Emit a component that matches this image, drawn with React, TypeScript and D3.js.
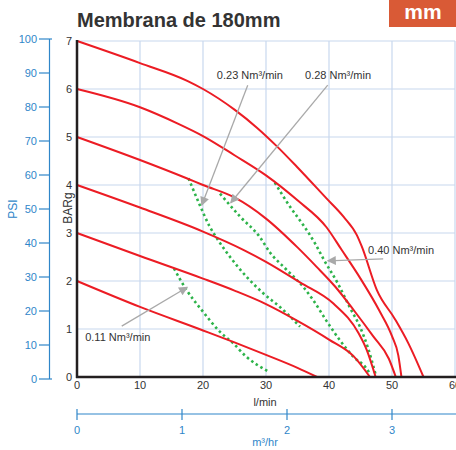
import React from "react";
import * as d3 from "d3";

// ---- data (l/min, BARg) ----
const curve2bar = [[0,2],[10,1.46],[20,0.97],[25,0.72],[30,0.46],[35,0.19],[38.1,0]];
const curve3bar = [[0,3],[10,2.52],[20,2.05],[25,1.8],[30,1.52],[35,1.17],[40,0.78],[44,0.42],[46.5,0]];
const curve4bar = [[0,4],[10,3.53],[20,3.03],[26.4,2.65],[30,2.4],[35.4,1.97],[40.7,1.53],[44.7,0.91],[46,0.56],[47.4,0]];
const curve5bar = [[0,5],[10,4.52],[17.4,4.14],[20,4.0],[25,3.74],[30,3.3],[35,2.7],[38,2.3],[41,1.88],[44,1.38],[47,0.85],[49.5,0.38],[50.6,0]];
const curve6bar = [[0,6],[10,5.62],[16,5.28],[20,5.02],[25,4.62],[30,4.2],[35,3.68],[39.6,3.12],[42,2.65],[45,2.05],[48,1.38],[50,0.85],[51,0.45],[51.5,0]];
const curve7bar = [[0,7],[10,6.54],[17.5,6.17],[20,6.0],[25,5.57],[28.6,5.19],[31.7,4.81],[34.9,4.38],[39.6,3.72],[42.3,3.34],[44.4,2.96],[45.2,2.72],[47.6,1.81],[50.5,1.2],[52.6,0.7],[55,0]];
const pressureCurves = [curve2bar, curve3bar, curve4bar, curve5bar, curve6bar, curve7bar];

const air011 = [[15.4,2.26],[17.4,1.81],[20,1.36],[22.7,0.94],[24.8,0.7],[26.9,0.42],[30.3,0.12]];
const air023 = [[17.7,4.14],[19.5,3.58],[21,3.15],[22.4,2.85],[24.3,2.5],[26.9,2.09],[29.6,1.74],[32.2,1.46],[35.4,1.05]];
const air028 = [[22.7,3.82],[25.9,3.34],[29,2.92],[30.6,2.6],[33.3,2.23],[35.9,1.88],[37.5,1.6],[39.6,1.17],[41.7,0.77],[43.9,0.42],[45.8,0.2],[46.6,0.05]];
const air040 = [[31.4,4.05],[33.8,3.55],[36,3.15],[37.8,2.78],[39.2,2.44],[41.4,1.95],[43.3,1.45],[44.9,1.05],[46.2,0.6],[47.4,0.05]];
const airCurves = [air011, air023, air028, air040];

// annotations: label, text pos [l/min, bar], arrow start, arrow tip
const annLabels = ["0.23 Nm³/min", "0.28 Nm³/min", "0.40 Nm³/min", "0.11 Nm³/min"];
const annText = [[22.2,6.21],[36.2,6.21],[46.2,2.56],[1.3,0.76]];
const annFrom = [[27.1,6.08],[39.8,6.08],[48.6,2.46],[7.1,1.06]];
const annTo = [[19.8,3.58],[24.4,3.63],[39.8,2.42],[17.5,1.87]];

const flowTicks = [0,10,20,30,40,50,60];
const barTicks = [0,1,2,3,4,5,6,7];
const psiTicks = [0,10,20,30,40,50,60,70,80,90,100];
const m3Ticks = [0,1,2,3];

const FONT = "'Liberation Sans', Arial, sans-serif";
const BLUE = "#2f86c9";
const GRID = "#c8d8ee";

export default function App() {
  const x = d3.scaleLinear().domain([0, 60]).range([77, 455]);
  const y = d3.scaleLinear().domain([0, 7]).range([377, 41]);
  const psi = d3.scaleLinear().domain([0, 100]).range([379, 39]);
  const m3 = d3.scaleLinear().domain([0, 3.6]).range([77, 455]);
  const line = d3.line<number[]>().x(d => x(d[0])).y(d => y(d[1])).curve(d3.curveMonotoneX);

  return (
    <svg width={456} height={450} style={{ position: "absolute", left: 0, top: 0, background: "#fff" }} fontFamily={FONT}>
      <defs>
        <marker id="arr" viewBox="0 0 10 10" refX="9" refY="5" markerWidth="11" markerHeight="9" orient="auto" markerUnits="userSpaceOnUse">
          <path d="M0,0 L10,5 L0,10 z" fill="#a9a9a9" />
        </marker>
      </defs>
      {/* title */}
      <text x={77} y={27} fontSize={20} fontWeight="bold" fill="#333">Membrana de 180mm</text>
      <rect x={389} y={0} width={67} height={27} fill="#d95a36" />
      <text x={423} y={19} fontSize={21} fontWeight="bold" fill="#fff" textAnchor="middle">mm</text>

      {/* grid */}
      {barTicks.filter(t => t > 0).map(t => (
        <line key={"gy" + t} x1={x(0)} x2={x(60)} y1={y(t)} y2={y(t)} stroke={GRID} strokeWidth={1.2} />
      ))}
      {flowTicks.filter(t => t > 0).map(t => (
        <line key={"gx" + t} x1={x(t)} x2={x(t)} y1={y(7)} y2={y(0)} stroke={GRID} strokeWidth={1.2} />
      ))}

      {/* green air consumption */}
      {airCurves.map((c, i) => (
        <path key={"g" + i} d={line(c) || ""} fill="none" stroke="#2db34a" strokeWidth={2.6} strokeDasharray="2.5,3" />
      ))}
      {/* red pressure curves */}
      {pressureCurves.map((c, i) => (
        <path key={"r" + i} d={line(c) || ""} fill="none" stroke="#ec1c24" strokeWidth={2} />
      ))}

      {/* annotations */}
      {annLabels.map((l, i) => (
        <g key={"a" + i}>
          <line x1={x(annFrom[i][0])} y1={y(annFrom[i][1])} x2={x(annTo[i][0])} y2={y(annTo[i][1])} stroke="#a9a9a9" strokeWidth={1.3} markerEnd="url(#arr)" />
          <text x={x(annText[i][0])} y={y(annText[i][1])} fontSize={11} fill="#333">{l}</text>
        </g>
      ))}

      {/* main axes */}
      <line x1={x(0)} x2={x(0)} y1={y(7) - 1} y2={y(0) + 1} stroke="#231f20" strokeWidth={2.5} />
      <line x1={x(0) - 1} x2={456} y1={y(0)} y2={y(0)} stroke="#231f20" strokeWidth={2.5} />
      {barTicks.map(t => (
        <text key={"bt" + t} x={72} y={y(t)} dy="0.35em" fontSize={11} fill="#333" textAnchor="end">{t}</text>
      ))}
      {flowTicks.map(t => (
        <text key={"ft" + t} x={x(t)} y={389} fontSize={11} fill="#333" textAnchor="middle">{t}</text>
      ))}
      <text x={265} y={406} fontSize={11} fill="#333" textAnchor="middle">l/min</text>
      <text transform="translate(72,208) rotate(-90)" fontSize={12} fill="#333" textAnchor="middle">BARg</text>

      {/* PSI axis */}
      <line x1={49.5} x2={49.5} y1={psi(100)} y2={psi(0)} stroke={BLUE} strokeWidth={1.2} />
      {psiTicks.map(t => (
        <g key={"pt" + t}>
          <line x1={39} x2={(t === 0 || t === 100) ? 52 : 49.5} y1={psi(t)} y2={psi(t)} stroke={BLUE} strokeWidth={1.2} />
          <text x={37} y={psi(t)} dy="0.35em" fontSize={11} fill={BLUE} textAnchor="end">{t}</text>
        </g>
      ))}
      <text transform="translate(17,209) rotate(-90)" fontSize={12} fill={BLUE} textAnchor="middle">PSI</text>

      {/* m3/hr axis */}
      <line x1={m3(0)} x2={456} y1={414} y2={414} stroke={BLUE} strokeWidth={1.2} />
      {m3Ticks.map(t => (
        <g key={"mt" + t}>
          <line x1={m3(t)} x2={m3(t)} y1={409} y2={420} stroke={BLUE} strokeWidth={1.2} />
          <text x={m3(t)} y={434} fontSize={11} fill={BLUE} textAnchor="middle">{t}</text>
        </g>
      ))}
      <text x={265} y={446} fontSize={11} fill={BLUE} textAnchor="middle">m³/hr</text>
    </svg>
  );
}
